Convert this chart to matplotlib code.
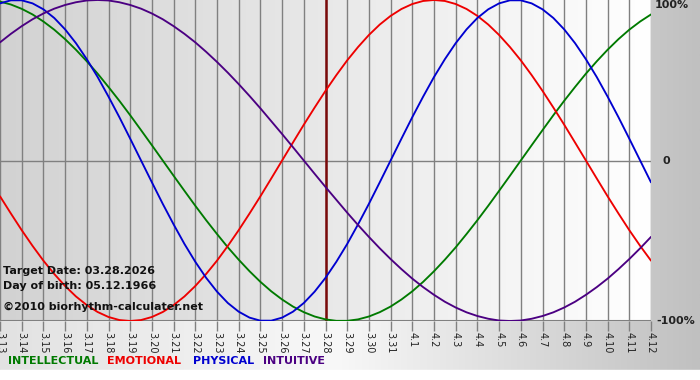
import matplotlib
matplotlib.use("Agg")
import matplotlib.pyplot as plt
import numpy as np
from matplotlib.colors import LinearSegmentedColormap

# day labels, 03.13 .. 04.12
days = ["3.13", "3.14", "3.15", "3.16", "3.17", "3.18", "3.19", "3.20", "3.21", "3.22",
        "3.23", "3.24", "3.25", "3.26", "3.27", "3.28", "3.29", "3.30", "3.31",
        "4.1", "4.2", "4.3", "4.4", "4.5", "4.6", "4.7", "4.8", "4.9", "4.10", "4.11", "4.12"]
target_day = "3.28"

# values every half day, -1 .. 1
physical = [0.979, 0.998, 0.998, 0.979, 0.942, 0.888, 0.817, 0.731, 0.631, 0.520, 0.398,
            0.270, 0.136, 0.000, -0.136, -0.270, -0.398, -0.520, -0.631, -0.731, -0.817,
            -0.888, -0.942, -0.979, -0.998, -0.998, -0.979, -0.942, -0.888, -0.817, -0.731,
            -0.631, -0.520, -0.398, -0.270, -0.136, 0.000, 0.136, 0.270, 0.398, 0.520,
            0.631, 0.731, 0.817, 0.888, 0.942, 0.979, 0.998, 0.998, 0.979, 0.942, 0.888,
            0.817, 0.731, 0.631, 0.520, 0.398, 0.270, 0.136, 0.000, -0.136]
emotional = [-0.223, -0.330, -0.434, -0.532, -0.624, -0.707, -0.782, -0.847, -0.901, -0.944,
             -0.975, -0.994, -1.000, -0.994, -0.975, -0.944, -0.901, -0.847, -0.782, -0.707,
             -0.624, -0.532, -0.434, -0.330, -0.223, -0.112, 0.000, 0.112, 0.223, 0.330,
             0.434, 0.532, 0.624, 0.707, 0.782, 0.847, 0.901, 0.944, 0.975, 0.994, 1.000,
             0.994, 0.975, 0.944, 0.901, 0.847, 0.782, 0.707, 0.624, 0.532, 0.434, 0.330,
             0.223, 0.112, 0.000, -0.112, -0.223, -0.330, -0.434, -0.532, -0.624]
intellectual = [0.990, 0.972, 0.945, 0.910, 0.866, 0.815, 0.756, 0.690, 0.618, 0.541, 0.458,
                0.372, 0.282, 0.189, 0.095, 0.000, -0.095, -0.189, -0.282, -0.372, -0.458,
                -0.541, -0.618, -0.690, -0.756, -0.815, -0.866, -0.910, -0.945, -0.972,
                -0.990, -0.999, -0.999, -0.990, -0.972, -0.945, -0.910, -0.866, -0.815,
                -0.756, -0.690, -0.618, -0.541, -0.458, -0.372, -0.282, -0.189, -0.095,
                0.000, 0.095, 0.189, 0.282, 0.372, 0.458, 0.541, 0.618, 0.690, 0.756, 0.815,
                0.866, 0.910]
intuitive = [0.736, 0.789, 0.837, 0.880, 0.916, 0.946, 0.969, 0.986, 0.997, 1.000, 0.997,
             0.986, 0.969, 0.946, 0.916, 0.880, 0.837, 0.789, 0.736, 0.677, 0.614, 0.547,
             0.476, 0.402, 0.325, 0.245, 0.165, 0.083, 0.000, -0.083, -0.165, -0.245,
             -0.325, -0.402, -0.476, -0.547, -0.614, -0.677, -0.736, -0.789, -0.837,
             -0.880, -0.916, -0.946, -0.969, -0.986, -0.997, -1.000, -0.997, -0.986,
             -0.969, -0.946, -0.916, -0.880, -0.837, -0.789, -0.736, -0.677, -0.614,
             -0.547, -0.476]

series = [("INTELLECTUAL", intellectual, "#007a00"),
          ("EMOTIONAL", emotional, "#ee0000"),
          ("PHYSICAL", physical, "#0000d0"),
          ("INTUITIVE", intuitive, "#4b0082")]

W, H = 700, 380
fig = plt.figure(figsize=(W / 100, H / 100), dpi=100)

# figure background: light on the left, gray on the right, white strip at the bottom
bg = fig.add_axes([0, 0, 1, 1], zorder=-10)
bg_cmap = LinearSegmentedColormap.from_list(
    "bg", [(0, "#e2e2e2"), (0.48, "#f8f8f8"), (1, "#c0c0c0")])
grad = np.linspace(0, 1, 256)[None, :]
bg.imshow(grad, cmap=bg_cmap, aspect="auto", extent=[0, 1, 10 / H, 1])
bg.axhspan(0, 10 / H, color="white")
bg.set_xlim(0, 1)
bg.set_ylim(0, 1)
bg.axis("off")

ax = fig.add_axes([0, 59 / H, 651 / W, 321 / H])
x = np.arange(len(days))
ax.set_xlim(0, len(days) - 1)
ax.set_ylim(-1, 1)

plot_cmap = LinearSegmentedColormap.from_list("plot", ["#d2d2d2", "#ffffff"])
ax.imshow(grad, cmap=plot_cmap, aspect="auto", extent=[0, len(days) - 1, -1, 1], zorder=0)

for xi in x:
    ax.axvline(xi, color="#808080", lw=1, zorder=1)
ax.axhline(0, color="#808080", lw=1, zorder=1)
ax.axhline(-1, color="#808080", lw=1.5, zorder=1)

ax.axvline(days.index(target_day), color="#7a0a0a", lw=1.8, zorder=3)

xs = np.linspace(0, len(days) - 1, len(physical))
for name, vals, col in series:
    ax.plot(xs, vals, color=col, lw=1.35, zorder=4, solid_capstyle="round")

for s in ax.spines.values():
    s.set_visible(False)
ax.set_yticks([])
ax.set_xticks(x)
ax.set_xticklabels(days, rotation=270, fontsize=7, color="#222222")
ax.tick_params(axis="x", length=7, width=1, color="#808080", pad=1)

# right side percent labels
for val, lab, dx in [(1, "100%", 3), (0, "0", 8), (-1, "-100%", 4)]:
    ax.annotate(lab, (len(days) - 1, val), xytext=(dx, 0), textcoords="offset points",
                ha="left", va="center" if val != 1 else "top", fontsize=8,
                fontweight="bold", color="#222222", annotation_clip=False)

# info text
fig.text(3 / W, 1 - 271 / H, "Target Date: 03.28.2026", fontsize=8, fontweight="bold",
         va="center", color="#111111")
fig.text(3 / W, 1 - 286 / H, "Day of birth: 05.12.1966", fontsize=8, fontweight="bold",
         va="center", color="#111111")
fig.text(3 / W, 1 - 307 / H, "©2010 biorhythm-calculater.net", fontsize=8,
         fontweight="bold", va="center", color="#111111")

# legend words
legend_x = [8, 107, 193, 263]
for (name, vals, col), lx in zip(series, legend_x):
    fig.text(lx / W, 1 - 361 / H, name, fontsize=8, fontweight="bold",
             va="center", color=col)

fig.savefig("out.png", dpi=100)
